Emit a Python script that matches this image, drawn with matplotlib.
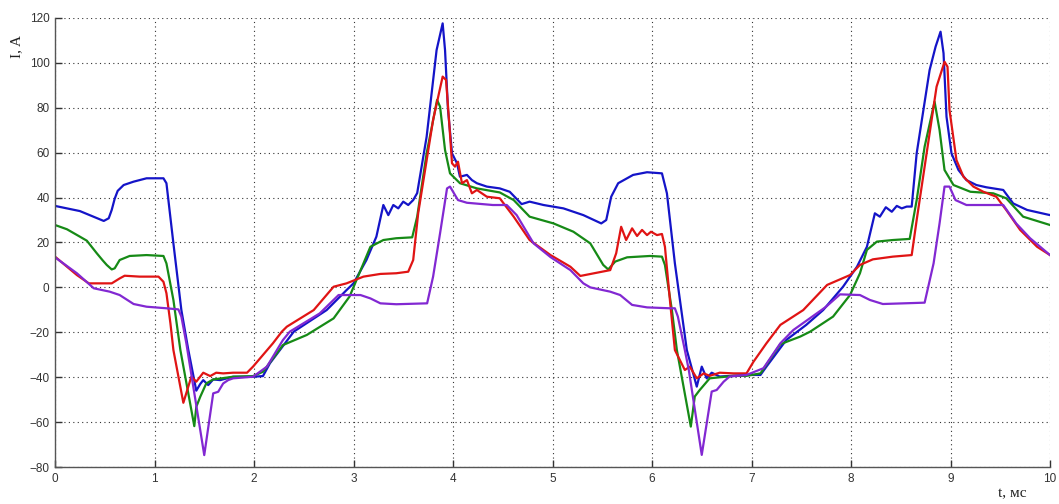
import matplotlib
matplotlib.use("Agg")
import matplotlib.pyplot as plt

# ---- data ----
t_blue = [0, 0.25, 0.49, 0.54, 0.57, 0.60, 0.63, 0.69, 0.79, 0.92, 1.09, 1.12, 1.19, 1.27, 1.34, 1.42, 1.46, 1.49,
          1.54, 1.59, 1.66, 1.79, 1.99, 2.09, 2.16, 2.40, 2.73, 2.93, 3.0, 3.13, 3.23, 3.30, 3.35, 3.40,
          3.45, 3.50, 3.55, 3.60, 3.64, 3.735, 3.835, 3.896, 3.92, 3.95, 3.99, 4.04, 4.07, 4.14, 4.19,
          4.24, 4.34, 4.47, 4.57, 4.69, 4.77, 4.91, 5.11, 5.31, 5.49, 5.54, 5.59, 5.66, 5.81, 5.95, 6.10,
          6.15, 6.23, 6.35, 6.45, 6.50, 6.55, 6.60, 6.68, 6.95, 7.09, 7.15, 7.35, 7.55, 7.72, 7.92, 8.06,
          8.16, 8.24, 8.29, 8.35, 8.41, 8.46, 8.51, 8.56, 8.61, 8.66, 8.79, 8.85, 8.90, 8.93, 8.96, 9.01,
          9.08, 9.16, 9.26, 9.36, 9.53, 9.63, 9.77, 10.0]
i_blue = [36.3, 34.0, 29.6, 30.8, 34.5, 39.5, 43.0, 45.6, 47.1, 48.6, 48.6, 46.4, 19.6, -10.1, -27.9, -46.0, -43.0, -41.3,
          -43.5, -41.0, -41.3, -39.8, -39.8, -39.5, -33.8, -19.7, -10.1, -1.2, 1.8, 12.2, 22.6, 36.7, 32.2, 36.7,
          35.2, 38.2, 36.7, 38.9, 42.0, 67.1, 105.7, 117.6, 105.7, 79.0, 59.7, 55.3, 49.3, 50.1, 47.8,
          46.4, 44.9, 44.1, 42.6, 37.1, 38.2, 36.7, 35.2, 32.2, 28.5, 30.0, 40.4, 46.4, 50.1, 51.3, 50.8,
          41.9, 10.7, -27.9, -44.2, -35.3, -40.5, -38.0, -39.7, -39.0, -39.0, -35.3, -23.4, -16.7, -10.1, 0.3, 9.2,
          18.1, 33.0, 31.5, 35.7, 33.7, 36.3, 35.2, 36.0, 36.0, 59.7, 96.8, 107.2, 113.9, 104.3, 76.0, 59.7,
          52.3, 47.8, 45.6, 44.6, 43.4, 37.4, 34.5, 32.2]

t_green = [0, 0.12, 0.25, 0.32, 0.42, 0.48, 0.52, 0.57, 0.60, 0.65, 0.75, 0.92, 1.09, 1.12, 1.19, 1.26, 1.40, 1.42, 1.46,
           1.52, 1.59, 1.79, 1.99, 2.09, 2.29, 2.53, 2.80, 2.96, 3.07, 3.17, 3.30, 3.43, 3.59, 3.64, 3.735,
           3.84, 3.87, 3.92, 3.97, 4.07, 4.24, 4.47, 4.61, 4.77, 5.01, 5.21, 5.38, 5.51, 5.56, 5.63, 5.75,
           5.98, 6.10, 6.13, 6.20, 6.25, 6.39, 6.43, 6.48, 6.58, 6.82, 6.95, 7.09, 7.29, 7.49, 7.59, 7.82,
           7.99, 8.09, 8.16, 8.26, 8.42, 8.59, 8.66, 8.74, 8.84, 8.89, 8.94, 9.03, 9.20, 9.43, 9.56, 9.73, 10.0]
i_green = [27.8, 25.9, 22.6, 20.8, 15.2, 12.0, 10.0, 8.0, 8.5, 12.2, 14.0, 14.4, 14.0, 10.7, -5.6, -27.9, -61.8, -53.2, -48.7,
           -42.8, -41.0, -39.8, -39.5, -37.6, -25.7, -21.2, -13.8, -4.1, 7.5, 18.1, 21.1, 21.9, 22.3, 31.5, 59.7,
           83.5, 80.5, 61.2, 50.8, 46.4, 44.1, 42.3, 38.9, 31.5, 28.5, 24.8, 19.6, 10.0, 8.0, 11.5, 13.4,
           14.0, 13.7, 10.0, -10.1, -27.9, -62.0, -48.6, -45.7, -40.5, -39.4, -39.4, -38.3, -25.3, -21.9, -19.7, -13.0,
           -3.4, 6.3, 16.7, 20.4, 21.1, 21.6, 38.9, 62.7, 82.7, 70.1, 52.3, 45.6, 42.6, 41.9, 39.7, 31.5, 27.8]

t_red = [0, 0.22, 0.34, 0.57, 0.65, 0.70, 0.85, 1.04, 1.09, 1.12, 1.16, 1.19, 1.29, 1.37, 1.42, 1.49,
         1.56, 1.62, 1.69, 1.79, 1.93, 1.99, 2.09, 2.19, 2.28, 2.33, 2.60, 2.80, 2.93, 3.10, 3.27, 3.43,
         3.55, 3.60, 3.65, 3.80, 3.896, 3.93, 3.96, 3.99, 4.02, 4.05, 4.09, 4.14, 4.19, 4.24, 4.34, 4.47,
         4.61, 4.77, 4.98, 5.18, 5.28, 5.58, 5.64, 5.69, 5.74, 5.80, 5.85, 5.90, 5.95, 5.99, 6.05, 6.10,
         6.13, 6.18, 6.23, 6.33, 6.38, 6.45, 6.52, 6.58, 6.68, 6.82, 6.95, 7.02, 7.15, 7.29, 7.52, 7.76,
         7.99, 8.09, 8.22, 8.42, 8.61, 8.66, 8.76, 8.86, 8.94, 8.97, 8.99, 9.06, 9.13, 9.23, 9.33, 9.46,
         9.56, 9.70, 9.87, 10.0]
i_red = [13.7, 5.5, 1.8, 1.8, 4.0, 5.2, 4.8, 4.8, 2.5, -2.6, -16.0, -27.9, -51.4, -39.8, -42.0, -38.0,
         -39.5, -38.0, -38.3, -38.0, -38.0, -35.3, -30.1, -24.9, -19.7, -17.5, -10.1, 0.3, 1.8, 4.8, 6.0, 6.3,
         7.0, 12.2, 33.0, 74.6, 93.9, 92.4, 74.6, 55.3, 53.8, 56.0, 46.4, 47.8, 41.9, 43.4, 40.4, 39.7,
         31.5, 21.1, 14.4, 9.2, 5.1, 7.7, 15.2, 27.0, 21.1, 26.3, 22.9, 25.6, 23.3, 24.8, 23.3, 23.8,
         18.1, -5.6, -27.9, -36.8, -35.3, -40.5, -38.3, -39.4, -38.0, -38.3, -38.3, -33.1, -24.9, -16.7, -10.1, 1.1,
         5.5, 10.0, 12.5, 13.7, 14.4, 30.0, 59.7, 89.4, 100.5, 98.3, 79.0, 56.7, 49.3, 44.9, 42.6, 40.4,
         34.5, 25.6, 18.1, 14.4]

t_purple = [0, 0.22, 0.39, 0.55, 0.65, 0.79, 0.92, 1.12, 1.24, 1.27, 1.32, 1.50, 1.59, 1.64, 1.69, 1.74,
            1.79, 1.99, 2.13, 2.29, 2.36, 2.66, 2.85, 3.07, 3.17, 3.27, 3.43, 3.74, 3.80, 3.87, 3.94, 3.97,
            4.05, 4.14, 4.40, 4.54, 4.64, 4.81, 4.98, 5.18, 5.31, 5.38, 5.58, 5.68, 5.80, 5.95, 6.18, 6.23,
            6.26, 6.33, 6.37, 6.50, 6.60, 6.65, 6.72, 6.78, 6.95, 7.12, 7.29, 7.42, 7.75, 7.89, 8.09, 8.19,
            8.32, 8.74, 8.83, 8.89, 8.94, 8.99, 9.05, 9.16, 9.53, 9.66, 9.80, 10.0]
i_purple = [13.4, 6.3, -0.4, -1.9, -3.4, -7.4, -8.6, -9.3, -9.8, -13.0, -24.9, -74.7, -47.2, -46.5, -42.8, -41.3,
            -40.5, -39.8, -35.3, -23.5, -19.7, -11.6, -3.4, -3.4, -4.9, -7.1, -7.5, -7.1, 4.8, 24.1, 44.1, 44.9,
            38.9, 37.7, 36.7, 36.7, 32.2, 19.6, 13.5, 7.7, 1.8, 0.0, -1.9, -3.4, -7.8, -8.9, -9.3, -9.3,
            -13.0, -27.9, -36.8, -74.6, -46.4, -45.7, -42.0, -39.7, -39.0, -36.0, -24.9, -19.0, -8.6, -3.1, -3.4, -5.6,
            -7.4, -6.8, 10.7, 28.5, 44.9, 44.9, 38.9, 36.7, 36.7, 28.5, 21.9, 14.4]

x_ticks = list(range(0, 11))
y_ticks = list(range(-80, 121, 20))

# ---- figure ----
fig = plt.figure(figsize=(10.59, 5.04), dpi=100)
ax = fig.add_axes([55/1059, 1-467/504, (1050-55)/1059, (467-18)/504])

ax.plot(t_blue, i_blue, color='#1414c8', lw=1.6)
ax.plot(t_green, i_green, color='#168a16', lw=1.6)
ax.plot(t_red, i_red, color='#e01414', lw=1.6)
ax.plot(t_purple, i_purple, color='#8228d2', lw=1.6)

ax.set_xlim(0, 10)
ax.set_ylim(-80, 120)
ax.set_xticks(x_ticks)
ax.set_yticks(y_ticks)
ax.grid(True, color='#333333', linestyle=(0, (1, 3)), linewidth=0.8)
for s in ('top', 'right'):
    ax.spines[s].set_visible(False)
for s in ('left', 'bottom'):
    ax.spines[s].set_color('#555555')
    ax.spines[s].set_linewidth(1.0)
ax.tick_params(direction='in', length=5, width=1, color='#333333',
               labelsize=8.5, labelcolor='#333333', pad=4)
for lab in ax.get_xticklabels() + ax.get_yticklabels():
    lab.set_family('Liberation Sans')

fig.text(17/1059, 1-47/504, 'I, A', rotation=90, ha='center', va='center',
         family='Liberation Serif', fontsize=11, color='#222222')
fig.text(1012/1059, 1-494/504, 't, мс', ha='center', va='center',
         family='Liberation Serif', fontsize=11, color='#222222')

fig.savefig('out.png', dpi=100)
